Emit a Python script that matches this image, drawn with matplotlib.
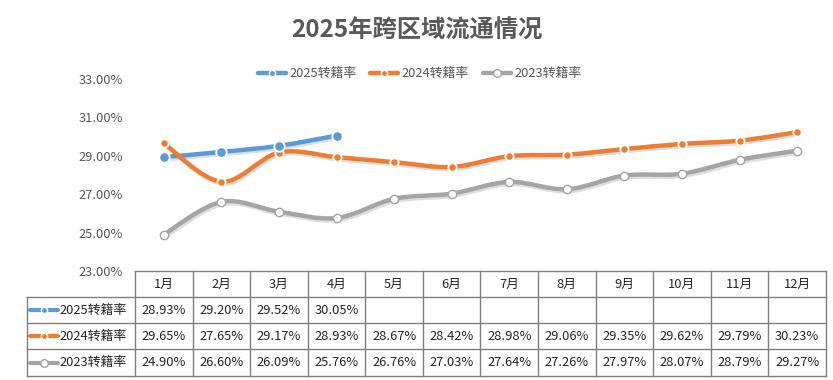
import numpy as np
import matplotlib.pyplot as plt
import matplotlib.patheffects as pe
from matplotlib.path import Path
from matplotlib.patches import PathPatch

plt.rcParams['font.family'] = ['Noto Sans CJK SC', 'DejaVu Sans']

months = ['1月', '2月', '3月', '4月', '5月', '6月', '7月', '8月', '9月', '10月', '11月', '12月']
s2025 = [28.93, 29.20, 29.52, 30.05]
s2024 = [29.65, 27.65, 29.17, 28.93, 28.67, 28.42, 28.98, 29.06, 29.35, 29.62, 29.79, 30.23]
s2023 = [24.90, 26.60, 26.09, 25.76, 26.76, 27.03, 27.64, 27.26, 27.97, 28.07, 28.79, 29.27]
names = ['2025转籍率', '2024转籍率', '2023转籍率']
yticks = [23, 25, 27, 29, 31, 33]

colors = ['#5B9BD5', '#ED7D31', '#A5A5A5']
txt = '#595959'

W, H = 833, 380
fig = plt.figure(figsize=(W / 100, H / 100), dpi=100)

# plot area in pixels
x0, x1 = 135, 826
ytop, ybot = 79, 271
ax = fig.add_axes([x0 / W, 1 - ybot / H, (x1 - x0) / W, (ybot - ytop) / H])
ax.set_xlim(-0.5, 11.5)
ax.set_ylim(23, 33)
ax.set_yticks(yticks)
ax.set_yticklabels(['%.2f%%' % v for v in yticks], color=txt, fontsize=9.3)
ax.tick_params(axis='y', length=0, pad=8.5)
ax.set_xticks([])
for s in ax.spines.values():
    s.set_visible(False)


def smooth_path(xs, ys):
    # cubic bezier through the points, like office "smooth line"
    pts = np.column_stack([xs, ys]).astype(float)
    n = len(pts)
    verts = [pts[0]]
    codes = [Path.MOVETO]
    for i in range(n - 1):
        p0 = pts[max(i - 1, 0)]
        p1 = pts[i]
        p2 = pts[i + 1]
        p3 = pts[min(i + 2, n - 1)]
        verts += [p1 + (p2 - p0) / 6, p2 - (p3 - p1) / 6, p2]
        codes += [Path.CURVE4] * 3
    return Path(verts, codes)


shadow = [pe.SimpleLineShadow(offset=(1.0, -1.5), alpha=0.13, shadow_color='#000000'), pe.Normal()]
series = [s2025, s2024, s2023]
mk = [dict(ms=7.5, mfc=colors[0], mec='white', mew=1.3),
      dict(ms=6, mfc=colors[1], mec='white', mew=1.3),
      dict(ms=6, mfc='white', mec=colors[2], mew=1.0)]
for k in [2, 1, 0]:
    vals = series[k]
    xs = np.arange(len(vals))
    patch = PathPatch(smooth_path(xs, vals), fill=False, edgecolor=colors[k], lw=3.2,
                      capstyle='round', joinstyle='round', zorder=2 + k * 0.1)
    patch.set_path_effects(shadow)
    ax.add_patch(patch)
    ax.plot(xs, vals, ls='none', marker='o', zorder=5, **mk[k])

fig.text(0.5, 1 - 31 / H, '2025年跨区域流通情况', ha='center', va='center',
         fontsize=17.5, fontweight='bold', color=txt)

# overlay axes in pixel coords for legend + table
lax = fig.add_axes([0, 0, 1, 1])
lax.set_xlim(0, W)
lax.set_ylim(H, 0)
lax.axis('off')
lax.patch.set_alpha(0)

leg_x = [258, 370, 483]
for k in range(3):
    lx = leg_x[k]
    lax.plot([lx, lx + 28], [73, 73], color=colors[k], lw=3.2, solid_capstyle='round')
    if k == 2:
        lax.plot(lx + 14, 73, 'o', ms=5.5, mfc='white', mec=colors[k], mew=1.0)
    else:
        lax.plot(lx + 14, 73, 'o', ms=4.5, mfc=colors[k], mec='white', mew=1.0)
    lax.text(lx + 31, 73, names[k], ha='left', va='center', fontsize=9.3, color=txt)

# data table
col_w = (x1 - x0) / 12
rows_y = [271, 297, 323, 349, 376]
lc = '#7F7F7F'
lw = 1.0
lax.plot([x0, x1], [rows_y[0], rows_y[0]], color=lc, lw=lw)
for r in range(1, 5):
    lax.plot([27, x1], [rows_y[r], rows_y[r]], color=lc, lw=lw)
lax.plot([27, 27], [rows_y[1], rows_y[4]], color=lc, lw=lw)
for c in range(13):
    xc = x0 + c * col_w
    lax.plot([xc, xc], [rows_y[0], rows_y[4]], color=lc, lw=lw)
for c, m in enumerate(months):
    lax.text(x0 + (c + 0.5) * col_w, (rows_y[0] + rows_y[1]) / 2, m,
             ha='center', va='center', fontsize=9.3, color='#262626')
for k in range(3):
    yc = (rows_y[k + 1] + rows_y[k + 2]) / 2
    lax.plot([30, 58], [yc, yc], color=colors[k], lw=3.0, solid_capstyle='round')
    if k == 2:
        lax.plot(44, yc, 'o', ms=5.5, mfc='white', mec=colors[k], mew=1.0)
    else:
        lax.plot(44, yc, 'o', ms=4.5, mfc=colors[k], mec='white', mew=1.0)
    lax.text(59, yc, names[k], ha='left', va='center', fontsize=9.3, color='#262626')
    for c, v in enumerate(series[k]):
        lax.text(x0 + (c + 0.5) * col_w, yc, '%.2f%%' % v,
                 ha='center', va='center', fontsize=9.3, color='#262626')

fig.savefig('out.png', dpi=100)
